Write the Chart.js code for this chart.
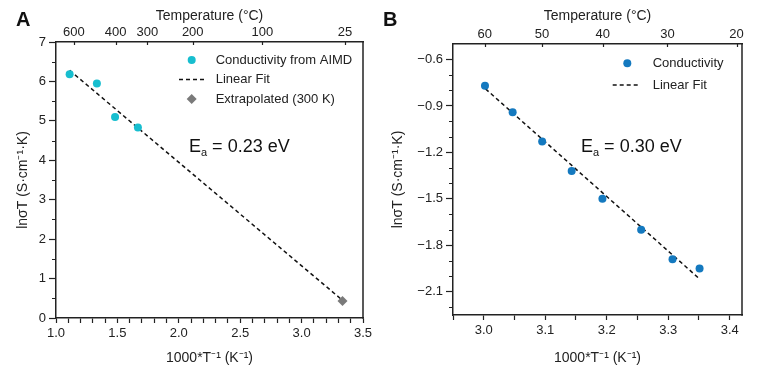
<!DOCTYPE html>
<html>
<head>
<meta charset="utf-8">
<script src="https://cdn.jsdelivr.net/npm/chart.js@4.4.1/dist/chart.umd.min.js"></script>
<style>
html, body { margin: 0; padding: 0; background: #fff; }
#wrap { position: relative; width: 769px; height: 385px; }
canvas { position: absolute; top: 0; }
#chartA { left: 0; }
#chartB { left: 380px; }
</style>
</head>
<body>
<div id="wrap">
  <canvas id="chartA" width="380" height="385"></canvas>
  <canvas id="chartB" width="389" height="385"></canvas>
</div>
<script>
// Panel A data
const invTempA = [1.111, 1.333, 1.481, 1.667];
const lnSigmaTA = [6.18, 5.95, 5.10, 4.83];
const fitXA = [1.111, 3.333];
const fitYA = [6.28, 0.45];
const extraXA = [3.333];
const extraYA = [0.43];
const topTempsA = [600, 400, 300, 200, 100, 25];
const xTicksA = [1.0, 1.1, 1.2, 1.3, 1.4, 1.5, 1.6, 1.7, 1.8, 1.9, 2.0, 2.1, 2.2, 2.3, 2.4, 2.5, 2.6, 2.7, 2.8, 2.9, 3.0, 3.1, 3.2, 3.3, 3.4, 3.5];
const xLabelsA = ['1.0', '1.5', '2.0', '2.5', '3.0', '3.5'];
const yMajorA = [0, 1, 2, 3, 4, 5, 6, 7];
const yMinorA = [0.5, 1.5, 2.5, 3.5, 4.5, 5.5, 6.5];

// Panel B data
const invTempB = [3.002, 3.047, 3.095, 3.143, 3.193, 3.256, 3.307, 3.351];
const lnSigmaTB = [-0.77, -0.94, -1.13, -1.32, -1.50, -1.70, -1.89, -1.95];
const fitXB = [3.003, 3.349];
const fitYB = [-0.79, -2.01];
const topTempsB = [60, 50, 40, 30, 20];
const xTicksB = [2.95, 3.0, 3.05, 3.1, 3.15, 3.2, 3.25, 3.3, 3.35, 3.4];
const xLabelsB = ['3.0', '3.1', '3.2', '3.3', '3.4'];
const yMajorB = [-2.1, -1.8, -1.5, -1.2, -0.9, -0.6];
const yMinorB = [-2.2, -2.0, -1.9, -1.7, -1.6, -1.4, -1.3, -1.1, -1.0, -0.8, -0.7];

Chart.defaults.font.family = "'Liberation Sans', Arial, sans-serif";
Chart.defaults.font.size = 13;
Chart.defaults.color = '#222';

const INK = '#222';
const toPoints = (xs, ys) => xs.map((x, i) => ({ x, y: ys[i] }));
const labelFor = (v, list) => {
    const hit = list.find(s => Math.abs(parseFloat(s) - v) < 1e-6);
    return hit ? hit.replace('-', '\u2212') : '';
};

// frame, minor ticks, legend, Ea text, panel letter
const decorPlugin = {
    id: 'decor',
    afterDraw(chart, args, opts) {
        const { ctx, chartArea: a, scales } = chart;
        ctx.save();
        ctx.strokeStyle = INK;
        ctx.lineWidth = 1.5;
        ctx.beginPath();
        ctx.moveTo(a.right, a.top - 0.75);
        ctx.lineTo(a.right, a.bottom + 0.75);
        ctx.stroke();

        ctx.lineWidth = 1.2;
        ctx.beginPath();
        opts.yMinor.forEach(v => {
            const py = Math.round(scales.y.getPixelForValue(v)) + 0.5;
            ctx.moveTo(a.left - 4, py);
            ctx.lineTo(a.left, py);
        });
        scales.x2.ticks.forEach(t => {
            const px = Math.round(scales.x2.getPixelForValue(t.value)) + 0.5;
            ctx.moveTo(px, a.top);
            ctx.lineTo(px, a.top + 3);
        });
        ctx.stroke();

        // legend
        ctx.font = "13px 'Liberation Sans', Arial, sans-serif";
        ctx.textBaseline = 'middle';
        ctx.textAlign = 'left';
        opts.legend.rows.forEach((y, i) => {
            const ds = chart.data.datasets[i];
            if (ds.showLine) {
                ctx.strokeStyle = ds.borderColor;
                ctx.lineWidth = ds.borderWidth;
                ctx.setLineDash(ds.borderDash);
                ctx.beginPath();
                ctx.moveTo(opts.legend.lineFrom, y);
                ctx.lineTo(opts.legend.lineTo, y);
                ctx.stroke();
                ctx.setLineDash([]);
            } else {
                ctx.fillStyle = ds.backgroundColor;
                ctx.strokeStyle = ds.borderColor;
                Chart.helpers.drawPoint(ctx, { pointStyle: ds.pointStyle, radius: ds.pointRadius, borderWidth: 0 }, opts.legend.marker, y);
            }
            ctx.fillStyle = INK;
            ctx.fillText(ds.label, opts.legend.text, y);
        });

        // activation energy
        ctx.textBaseline = 'alphabetic';
        ctx.fillStyle = '#111';
        ctx.font = "18px 'Liberation Sans', Arial, sans-serif";
        let x = opts.ea.x;
        ctx.fillText('E', x, opts.ea.y);
        x += ctx.measureText('E').width;
        ctx.font = "11px 'Liberation Sans', Arial, sans-serif";
        ctx.fillText('a', x, opts.ea.y + 4);
        x += ctx.measureText('a').width;
        ctx.font = "18px 'Liberation Sans', Arial, sans-serif";
        ctx.fillText(' = ' + opts.ea.value + ' eV', x, opts.ea.y);

        ctx.font = "bold 20px 'Liberation Sans', Arial, sans-serif";
        ctx.fillText(opts.letter.text, opts.letter.x, opts.letter.y);
        ctx.restore();
    }
};

function buildScales(p) {
    const axisText = { size: 14 };
    return {
        x: {
            type: 'linear', position: 'bottom', min: p.xMin, max: p.xMax,
            afterBuildTicks: s => { s.ticks = p.xTicks.map(v => ({ value: v })); },
            afterFit: s => { s.height = p.bottomH; },
            ticks: { autoSkip: false, maxRotation: 0, padding: 3, callback: v => labelFor(v, p.xLabels) },
            grid: { drawOnChartArea: false, tickLength: 5, color: INK, tickWidth: 1.2 },
            border: { display: true, color: INK, width: 1.5 },
            title: { display: true, text: '1000*T\u207B\u00B9 (K\u207B\u00B9)', font: axisText, padding: { top: 0, bottom: 18 } }
        },
        x2: {
            type: 'linear', position: 'top', min: p.xMin, max: p.xMax,
            afterBuildTicks: s => { s.ticks = p.topTemps.map(t => ({ value: 1000 / (t + 273.15) })); },
            afterFit: s => { s.height = p.topH; },
            ticks: { autoSkip: false, maxRotation: 0, padding: 2, callback: (v, i) => String(p.topTemps[i]) },
            grid: { drawOnChartArea: false, drawTicks: false },
            border: { display: true, color: INK, width: 1.5 },
            title: { display: true, text: 'Temperature (\u00B0C)', font: axisText, padding: { top: 8, bottom: 0 } }
        },
        y: {
            type: 'linear', position: 'left', min: p.yMin, max: p.yMax,
            afterBuildTicks: s => { s.ticks = p.yMajor.map(v => ({ value: v })); },
            afterFit: s => { s.width = p.leftW; },
            ticks: { padding: 3, callback: v => String(v).replace('-', '\u2212') },
            grid: { drawOnChartArea: false, tickLength: 7, color: INK, tickWidth: 1.2 },
            border: { display: true, color: INK, width: 1.5 },
            title: { display: true, text: 'ln\u03C3T (S\u00B7cm\u207B\u00B9\u00B7K)', font: axisText, padding: { top: p.yTitlePad, bottom: 0 } }
        }
    };
}

function makeChart(id, datasets, p, decor) {
    return new Chart(document.getElementById(id), {
        type: 'scatter',
        data: { datasets },
        options: {
            responsive: false, animation: false, devicePixelRatio: 1,
            layout: { padding: { left: 0, top: 0, bottom: 0, right: p.rightPad } },
            plugins: { legend: { display: false }, tooltip: { enabled: false }, decor },
            events: [],
            scales: buildScales(p)
        },
        plugins: [decorPlugin]
    });
}

const fitStyle = { borderColor: '#111', borderWidth: 1.5, borderDash: [4, 3], pointRadius: 0, showLine: true, fill: false, order: 2 };

makeChart('chartA', [
    { label: 'Conductivity from AIMD', data: toPoints(invTempA, lnSigmaTA), backgroundColor: '#17becf', borderColor: '#17becf', borderWidth: 0, pointRadius: 4, pointStyle: 'circle', order: 0 },
    Object.assign({ label: 'Linear Fit', data: toPoints(fitXA, fitYA) }, fitStyle),
    { label: 'Extrapolated (300 K)', data: toPoints(extraXA, extraYA), backgroundColor: '#7a7a7a', borderColor: '#7a7a7a', borderWidth: 0, pointRadius: 5, pointStyle: 'rectRot', order: 0 }
], {
    xMin: 1.0, xMax: 3.5, yMin: 0, yMax: 7,
    xTicks: xTicksA, xLabels: xLabelsA, yMajor: yMajorA, topTemps: topTempsA,
    bottomH: 67, topH: 42, leftW: 56, rightPad: 17, yTitlePad: 14.5
}, {
    yMinor: yMinorA,
    legend: { rows: [60, 79.5, 99], marker: 191.7, lineFrom: 179, lineTo: 204, text: 215.7 },
    ea: { x: 189, y: 151.7, value: '0.23' },
    letter: { text: 'A', x: 16, y: 26 }
});

makeChart('chartB', [
    { label: 'Conductivity', data: toPoints(invTempB, lnSigmaTB), backgroundColor: '#1479bf', borderColor: '#1479bf', borderWidth: 0, pointRadius: 4, pointStyle: 'circle', order: 0 },
    Object.assign({ label: 'Linear Fit', data: toPoints(fitXB, fitYB) }, fitStyle)
], {
    xMin: 2.95, xMax: 3.42, yMin: -2.25, yMax: -0.5,
    xTicks: xTicksB, xLabels: xLabelsB, yMajor: yMajorB, topTemps: topTempsB,
    bottomH: 70, topH: 44, leftW: 73, rightPad: 27, yTitlePad: 9.5
}, {
    yMinor: yMinorB,
    legend: { rows: [63.3, 85], marker: 247.3, lineFrom: 232.7, lineTo: 260.7, text: 272.7 },
    ea: { x: 201, y: 151.7, value: '0.30' },
    letter: { text: 'B', x: 3, y: 26 }
});
</script>
</body>
</html>
